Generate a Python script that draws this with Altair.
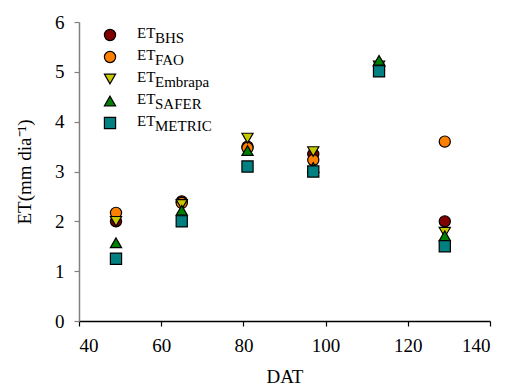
import altair as alt
import pandas as pd

# Days after transplanting (DAT) and evapotranspiration estimates (mm/day)
dat = [49, 65, 81, 97, 113, 129]
et_bhs = [2.00, 2.40, 3.50, 3.35, 5.10, 2.00]
et_fao = [2.17, 2.37, 3.47, 3.23, 5.10, 3.60]
et_embrapa = [2.00, 2.34, 3.67, 3.40, 5.12, 1.78]
et_safer = [1.57, 2.22, 3.42, 3.08, 5.23, 1.71]
et_metric = [1.25, 2.00, 3.10, 3.00, 5.01, 1.50]

series_keys = ["BHS", "FAO", "Embrapa", "SAFER", "METRIC"]
series_values = [et_bhs, et_fao, et_embrapa, et_safer, et_metric]
series_colors = ["#800000", "#FF8000", "#C8C800", "#008000", "#008080"]
series_shapes = ["circle", "circle", "triangle-down", "triangle-up", "square"]
series_sizes = [125, 125, 150, 150, 125]

FONT = "Liberation Serif"

rows = []
for key, vals in zip(series_keys, series_values):
    for d, v in zip(dat, vals):
        rows.append({"series": key, "DAT": d, "ET": v})
df = pd.DataFrame(rows)

legend_df = pd.DataFrame({
    "series": series_keys,
    "row": list(range(len(series_keys))),
    "main": ["ET"] * len(series_keys),
})

color = alt.Color("series:N", scale=alt.Scale(domain=series_keys, range=series_colors), legend=None)
shape = alt.Shape("series:N", scale=alt.Scale(domain=series_keys, range=series_shapes), legend=None)
size = alt.Size("series:N", scale=alt.Scale(domain=series_keys, range=series_sizes), legend=None)

points = alt.Chart(df).mark_point(filled=True, opacity=1, stroke="black", strokeWidth=1.2).encode(
    x=alt.X("DAT:Q", title="DAT",
            scale=alt.Scale(domain=[40, 140], nice=False, zero=False),
            axis=alt.Axis(values=[40, 60, 80, 100, 120, 140], format="d",
                          domainColor="black", tickColor="black",
                          titlePadding=12)),
    y=alt.Y("ET:Q", title="ET(mm dia⁻¹)",
            scale=alt.Scale(domain=[0, 6], nice=False),
            axis=alt.Axis(values=[0, 1, 2, 3, 4, 5, 6], format="d",
                          domainColor="#808080", tickColor="#808080",
                          titlePadding=20)),
    color=color,
    shape=shape,
    size=size,
)

leg_y = alt.Y("row:Q", scale=alt.Scale(domain=[0, 4], range=[13, 101]), axis=None)

legend_symbols = alt.Chart(legend_df).mark_point(filled=True, opacity=1, stroke="black", strokeWidth=1.2).encode(
    x=alt.value(31),
    y=leg_y,
    color=color,
    shape=shape,
    size=size,
)

legend_main = alt.Chart(legend_df).mark_text(
    align="left", baseline="alphabetic", font=FONT, fontSize=15, color="black", dy=3
).encode(x=alt.value(58), y=leg_y, text="main:N")

legend_sub = alt.Chart(legend_df).mark_text(
    align="left", baseline="alphabetic", font=FONT, fontSize=15, color="black", dy=8
).encode(x=alt.value(76), y=leg_y, text="series:N")

chart = alt.layer(points, legend_symbols, legend_main, legend_sub).resolve_scale(
    y="independent"
).properties(
    width=411,
    height=299,
    autosize=alt.AutoSizeParams(type="none"),
    padding={"left": 79, "top": 22, "right": 20, "bottom": 66},
).configure_view(
    stroke=None
).configure_axis(
    grid=False,
    labelFont=FONT,
    titleFont=FONT,
    labelFontSize=19,
    titleFontSize=19,
    titleFontWeight="normal",
    labelColor="black",
    titleColor="black",
    tickSize=5,
    labelPadding=10,
    domainWidth=1.5,
    tickWidth=1.2,
)

chart.save("out.html", embed_options={"renderer": "svg", "actions": False})
